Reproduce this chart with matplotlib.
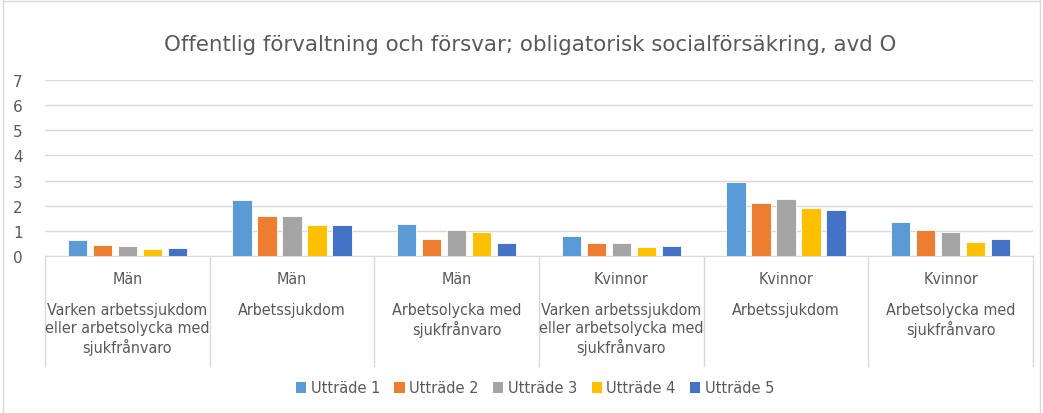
import matplotlib.pyplot as plt
import numpy as np
from matplotlib.lines import Line2D
from matplotlib.patches import Patch

# data
kon = ['Män', 'Män', 'Män', 'Kvinnor', 'Kvinnor', 'Kvinnor']
typ = ['Varken arbetssjukdom\neller arbetsolycka med\nsjukfrånvaro',
       'Arbetssjukdom',
       'Arbetsolycka med\nsjukfrånvaro',
       'Varken arbetssjukdom\neller arbetsolycka med\nsjukfrånvaro',
       'Arbetssjukdom',
       'Arbetsolycka med\nsjukfrånvaro']
series_names = ['Utträde 1', 'Utträde 2', 'Utträde 3', 'Utträde 4', 'Utträde 5']
utt1 = [0.62, 2.21, 1.27, 0.78, 2.94, 1.34]
utt2 = [0.45, 1.59, 0.68, 0.53, 2.11, 1.05]
utt3 = [0.40, 1.59, 1.03, 0.53, 2.28, 0.97]
utt4 = [0.27, 1.23, 0.97, 0.34, 1.92, 0.57]
utt5 = [0.32, 1.23, 0.53, 0.38, 1.84, 0.68]
colors = ['#5B9BD5', '#ED7D31', '#A5A5A5', '#FFC000', '#4472C4']

W, H = 1043, 414
fig = plt.figure(figsize=(W / 100, H / 100), dpi=100)
ax = fig.add_axes([45 / W, (H - 257) / H, 988 / W, 176 / H])

x = np.arange(len(kon))
bw = 0.118
step = 0.152
for i, vals in enumerate([utt1, utt2, utt3, utt4, utt5]):
    ax.bar(x + (i - 2) * step, vals, width=bw, color=colors[i],
           edgecolor='white', linewidth=0.6, zorder=3)

ax.set_xlim(-0.5, len(kon) - 0.5)
ax.set_ylim(0, 7)
ax.set_yticks(range(0, 8))
ax.set_xticks([])
ax.grid(axis='y', color='#D9D9D9', linewidth=1, zorder=0)
ax.tick_params(axis='y', length=0, labelsize=11, labelcolor='#595959', pad=16)
for s in ['top', 'right', 'left']:
    ax.spines[s].set_visible(False)
ax.spines['bottom'].set_color('#D9D9D9')

# category boxes below the axis
box_h = 110 / 176
for b in np.arange(-0.5, len(kon), 1.0):
    ax.add_line(Line2D([b, b], [0, -box_h], transform=ax.get_xaxis_transform(),
                       color='#D9D9D9', linewidth=1, clip_on=False))
for i in range(len(kon)):
    ax.text(x[i], -23 / 176, kon[i], transform=ax.get_xaxis_transform(),
            ha='center', va='center', fontsize=11.5, color='#595959',
            fontstretch='condensed')
    ax.text(x[i], -46 / 176, typ[i], transform=ax.get_xaxis_transform(),
            ha='center', va='top', fontsize=11.5, color='#595959',
            linespacing=1.22, fontstretch='condensed')

fig.text(530 / W, 1 - 45 / H,
         'Offentlig förvaltning och försvar; obligatorisk socialförsäkring, avd O',
         ha='center', va='center', fontsize=15.4, color='#595959')

handles = [Patch(facecolor=c, edgecolor='none') for c in colors]
fig.legend(handles, series_names, loc='center', bbox_to_anchor=(535 / W, 1 - 389 / H),
           ncol=5, frameon=False, fontsize=10.5, handlelength=0.7, handleheight=0.7,
           handletextpad=0.3, columnspacing=1.0, labelcolor='#595959')

# light frame around the chart
for xs, ys in [([3, 3], [0, H]), ([3, W - 3], [H - 2, H - 2]), ([W - 3, W - 3], [0, H])]:
    fig.add_artist(Line2D(np.array(xs) / W, np.array(ys) / H, color='#D9D9D9',
                          linewidth=1, transform=fig.transFigure))

fig.savefig('out.png', dpi=100)
